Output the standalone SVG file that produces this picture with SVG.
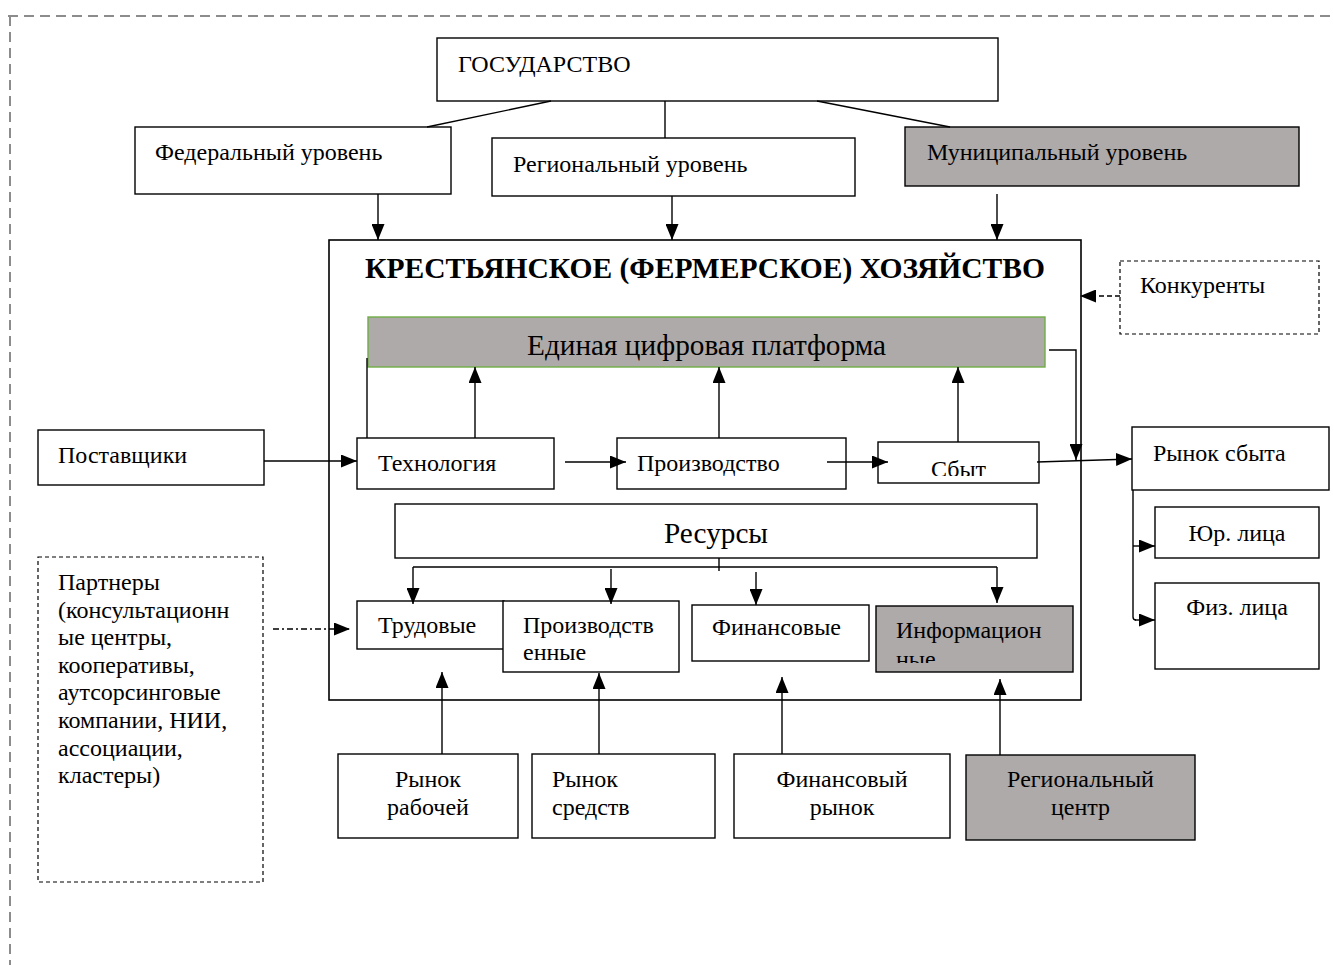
<svg xmlns="http://www.w3.org/2000/svg" width="1334" height="965" viewBox="0 0 1334 965">
<style>
  .box { fill: #ffffff; stroke: #000000; stroke-width: 1.4; }
  .gray { fill: #aeaaaa; stroke: #000000; stroke-width: 1.4; }
  .dbox { fill: #ffffff; stroke: #000000; stroke-width: 1.2; stroke-dasharray: 4 3; }
  .t { font-family: "Liberation Serif", "Times New Roman", serif; font-size: 24px; fill: #000000; }
  .tc { text-anchor: middle; }
  .big { font-size: 29px; }
  .title { font-size: 29px; font-weight: bold; }
  .ln { fill: none; stroke: #000000; stroke-width: 1.4; }
  .arr { fill: none; stroke: #000000; stroke-width: 1.4; marker-end: url(#ah); }
</style>
<defs>
  <marker id="ah" markerUnits="userSpaceOnUse" markerWidth="16" markerHeight="13" refX="16" refY="6.5" orient="auto">
    <path d="M0,0 L16,6.5 L0,13 Z" fill="#000000"/>
  </marker>
  <clipPath id="clipSbyt"><rect x="878" y="442" width="161" height="34"/></clipPath>
  <clipPath id="clipInfo"><rect x="876" y="606" width="197" height="57"/></clipPath>
</defs>

<!-- outer dashed frame -->
<path d="M8,16 H1334 M10,16 V965" fill="none" stroke="#8c8c8c" stroke-width="2" stroke-dasharray="10 6"/>

<g id="farm">
  <rect x="329" y="240" width="752" height="460" fill="#ffffff" stroke="#000000" stroke-width="1.6"/>
  <text class="t title" x="365" y="278" textLength="680" lengthAdjust="spacingAndGlyphs">КРЕСТЬЯНСКОЕ (ФЕРМЕРСКОЕ) ХОЗЯЙСТВО</text>
</g>

<g id="state">
  <rect class="box" x="437" y="38" width="561" height="63"/>
  <text class="t" x="458" y="72">ГОСУДАРСТВО</text>
</g>
<g id="federal">
  <rect class="box" x="135" y="127" width="316" height="67"/>
  <text class="t" x="155" y="160">Федеральный уровень</text>
</g>
<g id="regional">
  <rect class="box" x="492" y="138" width="363" height="58"/>
  <text class="t" x="513" y="172">Региональный уровень</text>
</g>
<g id="municipal">
  <rect class="gray" x="905" y="127" width="394" height="59"/>
  <text class="t" x="927" y="160">Муниципальный уровень</text>
</g>
<g id="competitors">
  <rect class="dbox" x="1120" y="261" width="199" height="73"/>
  <text class="t" x="1140" y="293">Конкуренты</text>
</g>
<g id="platform">
  <rect x="368" y="317" width="677" height="50" fill="#aeaaaa" stroke="#70ad47" stroke-width="1.4"/>
  <text class="t big" x="527" y="355" textLength="359" lengthAdjust="spacingAndGlyphs">Единая цифровая платформа</text>
</g>
<g id="suppliers">
  <rect class="box" x="38" y="430" width="226" height="55"/>
  <text class="t" x="58" y="463">Поставщики</text>
</g>
<g id="technology">
  <rect class="box" x="357" y="438" width="197" height="51"/>
  <text class="t" x="378" y="471">Технология</text>
</g>
<g id="production">
  <rect class="box" x="617" y="438" width="229" height="51"/>
  <text class="t" x="637" y="471">Производство</text>
</g>
<g id="sales">
  <rect class="box" x="878" y="442" width="161" height="41"/>
  <text class="t tc" x="958.5" y="477" clip-path="url(#clipSbyt)">Сбыт</text>
</g>
<g id="market">
  <rect class="box" x="1132" y="427" width="197" height="63"/>
  <text class="t" x="1153" y="461">Рынок сбыта</text>
</g>
<g id="legal">
  <rect class="box" x="1155" y="507" width="164" height="51"/>
  <text class="t tc" x="1237" y="541">Юр. лица</text>
</g>
<g id="individuals">
  <rect class="box" x="1155" y="583" width="164" height="86"/>
  <text class="t tc" x="1237" y="615">Физ. лица</text>
</g>
<g id="resources">
  <rect class="box" x="395" y="504" width="642" height="54"/>
  <text class="t big" x="664" y="543" textLength="104" lengthAdjust="spacingAndGlyphs">Ресурсы</text>
</g>
<g id="labour">
  <rect class="box" x="357" y="601" width="147" height="48"/>
  <text class="t" x="378" y="633">Трудовые</text>
</g>
<g id="productive">
  <rect class="box" x="503" y="601" width="176" height="71"/>
  <text class="t" x="523" y="633">Производств</text>
  <text class="t" x="523" y="660">енные</text>
</g>
<g id="financial">
  <rect class="box" x="692" y="605" width="177" height="56"/>
  <text class="t" x="712" y="635">Финансовые</text>
</g>
<g id="information">
  <rect class="gray" x="876" y="606" width="197" height="66"/>
  <text class="t" x="896" y="638">Информацион</text>
  <text class="t" x="896" y="667" clip-path="url(#clipInfo)">ные</text>
</g>
<g id="partners">
  <rect class="dbox" x="38" y="557" width="225" height="325"/>
  <text class="t" x="58" y="590">Партнеры<tspan x="58" dy="27.6">(консультационн</tspan><tspan x="58" dy="27.6">ые центры,</tspan><tspan x="58" dy="27.6">кооперативы,</tspan><tspan x="58" dy="27.6">аутсорсинговые</tspan><tspan x="58" dy="27.6">компании, НИИ,</tspan><tspan x="58" dy="27.6">ассоциации,</tspan><tspan x="58" dy="27.6">кластеры)</tspan></text>
</g>
<g id="labour-market">
  <rect class="box" x="338" y="754" width="180" height="84"/>
  <text class="t tc" x="428" y="787">Рынок</text>
  <text class="t tc" x="428" y="815">рабочей</text>
</g>
<g id="means-market">
  <rect class="box" x="532" y="754" width="183" height="84"/>
  <text class="t" x="552" y="787">Рынок</text>
  <text class="t" x="552" y="815">средств</text>
</g>
<g id="financial-market">
  <rect class="box" x="734" y="754" width="216" height="84"/>
  <text class="t tc" x="842" y="787">Финансовый</text>
  <text class="t tc" x="842" y="815">рынок</text>
</g>
<g id="regional-center">
  <rect class="gray" x="966" y="755" width="229" height="85"/>
  <text class="t tc" x="1080.5" y="787">Региональный</text>
  <text class="t tc" x="1080.5" y="815">центр</text>
</g>

<g id="connectors">
  <path class="ln" d="M551,101 L427,127"/>
  <path class="ln" d="M665,101 V138"/>
  <path class="ln" d="M817,101 L950,127"/>
  <path class="arr" d="M378,194 V240"/>
  <path class="arr" d="M672,196 V240"/>
  <path class="arr" d="M997,194 V240"/>
  <path class="arr" d="M1120,296 H1080" stroke-dasharray="5 3"/>
  <path class="arr" d="M1049,350 H1076 V460"/>
  <path class="ln" d="M367,358 V438"/>
  <path class="arr" d="M475,438 V367"/>
  <path class="arr" d="M719,438 V367"/>
  <path class="arr" d="M958,442 V367"/>
  <path class="arr" d="M264,461 H357"/>
  <path class="arr" d="M565,462 H626"/>
  <path class="arr" d="M827,462 H888"/>
  <path class="arr" d="M1037,462 L1132,459"/>
  <path class="ln" d="M719,558 V571"/>
  <path class="ln" d="M413,567 H997"/>
  <path class="arr" d="M413,567 V604"/>
  <path class="arr" d="M611,569 V604"/>
  <path class="arr" d="M756,572 V605"/>
  <path class="arr" d="M997,567 V603"/>
  <path class="ln" d="M1133,490 V617 Q1133,620 1136,620"/>
  <path class="arr" d="M1133,546 H1155"/>
  <path class="arr" d="M1135,620 H1155"/>
  <path class="arr" d="M273,629 H350" stroke-dasharray="6 3 2 3"/>
  <path class="arr" d="M442,754 V672"/>
  <path class="arr" d="M599,754 V673"/>
  <path class="arr" d="M782,754 V677"/>
  <path class="arr" d="M1000,755 V679"/>
</g>
</svg>
